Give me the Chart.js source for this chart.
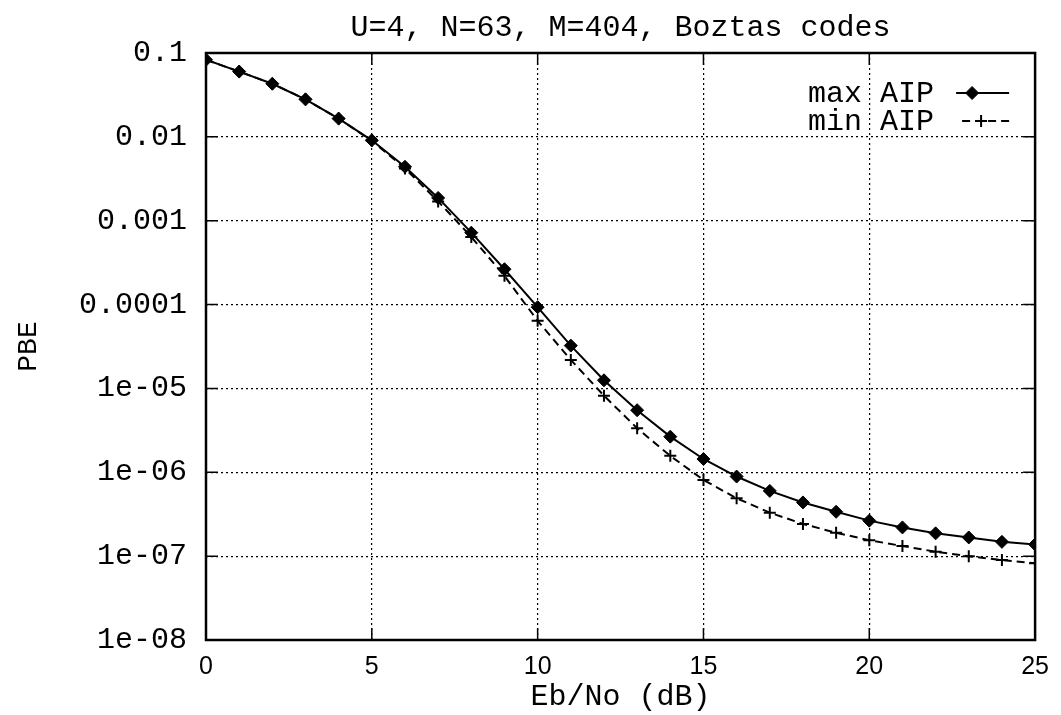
<!DOCTYPE html>
<html>
<head>
    <meta charset="UTF-8" />
    <title>Boztas codes PBE</title>
    <script src="https://cdn.jsdelivr.net/npm/chart.js"></script>
    <style>
        body { margin: 0; background: #fff; }
        #wrap { width: 1061px; height: 715px; }
    </style>
</head>
<body>
    <div id="wrap"><canvas id="chart"></canvas></div>
    <script>
        // Eb/No in dB
        const ebno = [0, 1, 2, 3, 4, 5, 6, 7, 8, 9, 10, 11, 12, 13, 14, 15, 16, 17, 18, 19, 20, 21, 22, 23, 24, 25];
        // max AIP curve
        const maxAIP = [0.083, 0.060, 0.043, 0.028, 0.0165, 0.0091, 0.0044, 0.00187, 0.00072, 0.000264,
            0.000093, 3.24e-5, 1.25e-5, 5.5e-6, 2.66e-6, 1.44e-6, 8.9e-7, 6.0e-7, 4.37e-7, 3.38e-7,
            2.65e-7, 2.2e-7, 1.87e-7, 1.67e-7, 1.48e-7, 1.38e-7];
        // min AIP curve
        const minAIP = [0.083, 0.060, 0.043, 0.028, 0.0165, 0.0090, 0.0042, 0.0017, 0.00064, 0.00022,
            0.000064, 2.19e-5, 8.2e-6, 3.35e-6, 1.57e-6, 8.1e-7, 4.9e-7, 3.3e-7, 2.42e-7, 1.9e-7,
            1.55e-7, 1.32e-7, 1.13e-7, 1.0e-7, 8.97e-8, 8.2e-8];
        const yTickValues = [0.1, 0.01, 0.001, 0.0001, 1e-5, 1e-6, 1e-7, 1e-8];
        const yTickLabels = ['0.1', '0.01', '0.001', '0.0001', '1e-05', '1e-06', '1e-07', '1e-08'];
        const xTickValues = [0, 5, 10, 15, 20, 25];
        const seriesNames = ['max AIP', 'min AIP'];

        const mono = 'Liberation Mono, DejaVu Sans Mono, monospace';

        function pts(ys) {
            return ebno.map((x, i) => ({ x: x, y: ys[i] }));
        }

        // frame, inner ticks and the gnuplot-ish legend
        const framePlugin = {
            id: 'frame',
            afterDraw(chart) {
                const ctx = chart.ctx;
                const a = chart.chartArea;
                const xs = chart.scales.x, ys = chart.scales.y;
                ctx.save();
                ctx.strokeStyle = '#000';
                ctx.lineWidth = 2.5;
                ctx.setLineDash([]);
                ctx.strokeRect(a.left, a.top, a.right - a.left, a.bottom - a.top);
                ctx.lineWidth = 1.5;
                yTickValues.forEach(v => {
                    const py = ys.getPixelForValue(v);
                    ctx.beginPath();
                    ctx.moveTo(a.left, py); ctx.lineTo(a.left + 12, py);
                    ctx.moveTo(a.right, py); ctx.lineTo(a.right - 12, py);
                    ctx.stroke();
                });
                xTickValues.slice(1, -1).forEach(v => {
                    const px = xs.getPixelForValue(v);
                    ctx.beginPath();
                    ctx.moveTo(px, a.bottom); ctx.lineTo(px, a.bottom - 12);
                    ctx.moveTo(px, a.top); ctx.lineTo(px, a.top + 12);
                    ctx.stroke();
                });

                // legend
                ctx.font = '30px ' + mono;
                ctx.textAlign = 'right';
                ctx.textBaseline = 'middle';
                const textRight = a.right - 101;
                const rows = [a.top + 40, a.top + 68];
                const markX = [a.right - 63, a.right - 54];
                chart.data.datasets.forEach((ds, i) => {
                    const y = rows[i];
                    ctx.fillStyle = '#000';
                    ctx.fillText(seriesNames[i], textRight, y + 1);
                    const x0 = textRight + 22 + i * 6, x1 = a.right - 26;
                    ctx.beginPath();
                    ctx.lineWidth = ds.borderWidth;
                    ctx.setLineDash(ds.borderDash || []);
                    ctx.moveTo(x0, y); ctx.lineTo(x1, y);
                    ctx.stroke();
                    ctx.setLineDash([]);
                    ctx.lineWidth = ds.pointBorderWidth;
                    Chart.helpers.drawPoint(ctx, {
                        pointStyle: ds.pointStyle, radius: ds.pointRadius,
                        borderWidth: ds.pointBorderWidth
                    }, markX[i], y);
                });
                ctx.restore();
            }
        };

        new Chart(document.getElementById('chart'), {
            type: 'line',
            data: {
                datasets: [{
                    label: seriesNames[0],
                    data: pts(maxAIP),
                    borderColor: '#000',
                    backgroundColor: '#000',
                    borderWidth: 2,
                    pointStyle: 'rectRot',
                    pointRadius: 6.5,
                    pointBorderWidth: 1,
                    tension: 0
                }, {
                    label: seriesNames[1],
                    data: pts(minAIP),
                    borderColor: '#000',
                    backgroundColor: '#000',
                    borderWidth: 2,
                    borderDash: [8, 5],
                    pointStyle: 'cross',
                    pointRadius: 6,
                    pointBorderWidth: 2,
                    tension: 0
                }]
            },
            options: {
                responsive: true,
                maintainAspectRatio: false,
                animation: false,
                layout: { padding: { top: 0, right: 25, bottom: 0, left: 0 } },
                plugins: {
                    legend: { display: false },
                    tooltip: { enabled: false },
                    title: {
                        display: true,
                        fullSize: false,
                        text: 'U=4, N=63, M=404, Boztas codes',
                        color: '#000',
                        font: { family: mono, size: 30, weight: 'normal', lineHeight: 1.2 },
                        padding: { top: 10, bottom: 7 }
                    }
                },
                scales: {
                    x: {
                        type: 'linear',
                        min: 0,
                        max: 25,
                        afterBuildTicks(s) {
                            s.ticks = xTickValues.map(v => ({ value: v }));
                        },
                        ticks: {
                            color: '#000',
                            font: { family: 'Liberation Sans, Arial, sans-serif', size: 25 },
                            padding: 12
                        },
                        grid: { color: '#000', lineWidth: 1.2, drawTicks: false },
                        border: { display: false, dash: [2, 3] },
                        title: {
                            display: true,
                            text: 'Eb/No (dB)',
                            color: '#000',
                            font: { family: mono, size: 30, lineHeight: 1.2 },
                            padding: { top: 0, bottom: 0 }
                        },
                        afterFit(s) { s.height = 75; }
                    },
                    y: {
                        type: 'logarithmic',
                        min: 1e-8,
                        max: 0.1,
                        afterBuildTicks(s) {
                            s.ticks = yTickValues.map(v => ({ value: v }));
                        },
                        ticks: {
                            color: '#000',
                            font: { family: mono, size: 30 },
                            padding: 19,
                            callback(v) {
                                const i = yTickValues.findIndex(t => Math.abs(t - v) / t < 1e-6);
                                return i >= 0 ? yTickLabels[i] : '';
                            }
                        },
                        grid: { color: '#000', lineWidth: 1.2, drawTicks: false },
                        border: { display: false, dash: [2, 3] },
                        title: {
                            display: true,
                            text: 'PBE',
                            color: '#000',
                            font: { family: mono, size: 28, lineHeight: 1.2 },
                            padding: { top: 12, bottom: 0 }
                        },
                        afterFit(s) { s.width = 206; }
                    }
                }
            },
            plugins: [framePlugin]
        });
    </script>
</body>
</html>
